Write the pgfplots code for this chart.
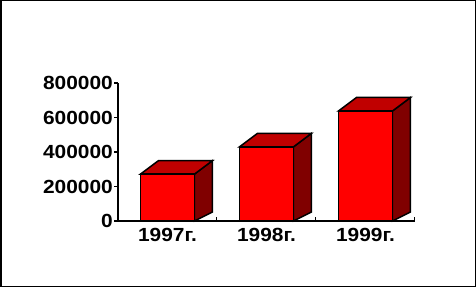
\documentclass[border=0pt]{standalone}
\usepackage{fontspec}
\setmainfont{Liberation Sans}[FakeStretch=1.1]
\usepackage{pgfplots}
\pgfplotsset{compat=1.18}
\definecolor{barfront}{RGB}{255,0,0}
\definecolor{bartop}{RGB}{192,0,0}
\definecolor{barside}{RGB}{128,0,0}
\begin{document}
\begin{tikzpicture}
\draw[line width=1.5bp] (0.75bp,0.75bp) rectangle (475.25bp,286.25bp);
\begin{axis}[
  at={(118bp,66bp)}, anchor=south west,
  scale only axis, width=297bp, height=138bp,
  xmin=-0.5, xmax=2.5, ymin=0, ymax=800000,
  axis x line*=bottom, axis y line*=left,
  axis line style={line width=1.5bp, -},
  ytick={0,200000,400000,600000,800000},
  scaled y ticks=false,
  yticklabel style={/pgf/number format/fixed, /pgf/number format/1000 sep={}, inner sep=1bp},
  /pgf/number format/assume math mode=true,
  tick label style={font=\fontsize{19bp}{21bp}\selectfont\bfseries},
  tick align=outside,
  major tick length=4bp,
  ytick style={line width=1.5bp, black},
  xtick={0.5,1.5,2.5}, xticklabels={},
  xtick style={line width=1bp, black, yshift=4bp},
  extra x ticks={0,1,2},
  extra x tick labels={1997г.,1998г.,1999г.},
  extra x tick style={major tick length=0pt, xticklabel style={yshift=-4bp}},
  clip=false,
]
% sides
\addplot[fill=barside, draw=black, line width=1.5bp] coordinates {(0.2727,0) (0.4545,52000) (0.4545,350000) (0.2727,272000)} -- cycle;
\addplot[fill=barside, draw=black, line width=1.5bp] coordinates {(1.2727,0) (1.4545,52000) (1.4545,508000) (1.2727,430000)} -- cycle;
\addplot[fill=barside, draw=black, line width=1.5bp] coordinates {(2.2727,0) (2.4545,52000) (2.4545,716000) (2.2727,638000)} -- cycle;
% tops
\addplot[fill=bartop, draw=black, line width=1.5bp] coordinates {(-0.2727,272000) (-0.0909,350000) (0.4545,350000) (0.2727,272000)} -- cycle;
\addplot[fill=bartop, draw=black, line width=1.5bp] coordinates {(0.7273,430000) (0.9091,508000) (1.4545,508000) (1.2727,430000)} -- cycle;
\addplot[fill=bartop, draw=black, line width=1.5bp] coordinates {(1.7273,638000) (1.9091,716000) (2.4545,716000) (2.2727,638000)} -- cycle;
% fronts
\addplot[ybar, bar width=0.5455, fill=barfront, draw=black, line width=1.5bp] coordinates {(0,272000) (1,430000) (2,638000)};
\end{axis}
\end{tikzpicture}
\end{document}
